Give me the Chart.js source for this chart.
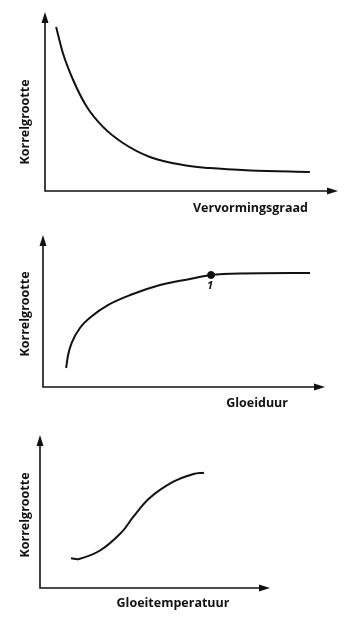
<!DOCTYPE html>
<html>
<head>
<meta charset="utf-8">
<script src="https://cdn.jsdelivr.net/npm/chart.js@4.4.1/dist/chart.umd.min.js"></script>
<style>
  body { margin: 0; background: #fff; width: 350px; height: 619px; position: relative; overflow: hidden; }
  canvas { position: absolute; left: 0; }
</style>
</head>
<body>
<canvas id="c1" width="350" height="220" style="top:0"></canvas>
<canvas id="c2" width="350" height="200" style="top:220px"></canvas>
<canvas id="c3" width="350" height="199" style="top:420px"></canvas>
<script>
const yTitle = 'Korrelgrootte';
const xTitles = ['Vervormingsgraad', 'Gloeiduur', 'Gloeitemperatuur'];

// 1: korrelgrootte vs vervormingsgraad
const deformX = [3.8, 6.1, 9.6, 14.3, 19.8, 26.6, 35.8, 47.1, 56.3, 70, 90.4];
const deformY = [91.6, 77.1, 62, 46.9, 35.8, 26.8, 19, 14.5, 12.8, 11.5, 10.6];

// 2: korrelgrootte vs gloeiduur, with point 1
const timeX = [8.2, 8.9, 10.3, 13.1, 17.4, 23.0, 30.9, 41.5, 52.1, 59.6, 69.9, 94.7];
const timeY = [12.5, 21.1, 29.6, 38.8, 46.7, 53.9, 60.5, 67.1, 71.1, 73.7, 74.7, 75.0];
const markX = [59.6];
const markY = [73.7];
const markLabels = ['1'];

// 3: korrelgrootte vs gloeitemperatuur
const tempX = [13.5, 17.0, 26.1, 35.5, 40.6, 47.8, 58.0, 66.7, 71.3];
const tempY = [19.4, 19.0, 24.5, 36.5, 46.6, 59.0, 69.5, 74.5, 75.4];

const INK = '#111';
const FONT = '"Open Sans", "DejaVu Sans", sans-serif';

function toPoints(xs, ys) {
  return xs.map((x, i) => ({ x: x, y: ys[i] }));
}

// axes with arrow heads + axis titles
const arrowAxes = {
  id: 'arrowAxes',
  afterDraw(chart, args, o) {
    const { ctx, chartArea: a } = chart;
    ctx.save();
    ctx.strokeStyle = INK;
    ctx.fillStyle = INK;
    ctx.lineWidth = 1.6;
    ctx.beginPath();
    ctx.moveTo(a.left, a.top + 8);
    ctx.lineTo(a.left, a.bottom);
    ctx.lineTo(a.right - 8, a.bottom);
    ctx.stroke();

    ctx.beginPath();
    ctx.moveTo(a.left, a.top);
    ctx.lineTo(a.left - 3.5, a.top + 11);
    ctx.lineTo(a.left + 3.5, a.top + 11);
    ctx.closePath();
    ctx.fill();

    ctx.beginPath();
    ctx.moveTo(a.right, a.bottom);
    ctx.lineTo(a.right - 11, a.bottom - 3.5);
    ctx.lineTo(a.right - 11, a.bottom + 3.5);
    ctx.closePath();
    ctx.fill();

    ctx.font = 'bold 12.5px ' + FONT;
    ctx.textBaseline = 'middle';
    ctx.textAlign = o.xAlign;
    ctx.fillText(o.xTitle, o.xPos[0], o.xPos[1]);

    ctx.translate(o.yPos[0], o.yPos[1]);
    ctx.rotate(-Math.PI / 2);
    ctx.textAlign = 'center';
    ctx.fillText(o.yTitle, 0, 0);
    ctx.restore();

    if (o.marks) {
      const xs = chart.scales.x, ys = chart.scales.y;
      ctx.save();
      ctx.fillStyle = INK;
      ctx.font = 'italic bold 11px ' + FONT;
      ctx.textAlign = 'center';
      ctx.textBaseline = 'top';
      o.marks.forEach(m => {
        ctx.fillText(m.label, xs.getPixelForValue(m.x) - 1, ys.getPixelForValue(m.y) + 5);
      });
      ctx.restore();
    }
  }
};

function makeChart(id, datasets, padding, axisOpts) {
  return new Chart(document.getElementById(id), {
    type: 'scatter',
    data: { datasets: datasets },
    options: {
      responsive: false,
      animation: false,
      events: [],
      layout: { padding: padding },
      scales: {
        x: { type: 'linear', min: 0, max: 100, display: false },
        y: { type: 'linear', min: 0, max: 100, display: false }
      },
      plugins: {
        legend: { display: false },
        tooltip: { enabled: false },
        arrowAxes: axisOpts
      }
    },
    plugins: [arrowAxes]
  });
}

function curve(xs, ys, mode) {
  return {
    data: toPoints(xs, ys),
    showLine: true,
    borderColor: INK,
    borderWidth: 2,
    pointRadius: 0,
    cubicInterpolationMode: mode,
    tension: 0.4
  };
}

makeChart('c1', [curve(deformX, deformY, 'monotone')],
  { left: 45, right: 12, top: 12, bottom: 29 },
  { xTitle: xTitles[0], xAlign: 'right', xPos: [308, 208], yTitle: yTitle, yPos: [25, 122] });

makeChart('c2', [
    curve(timeX, timeY, 'monotone'),
    {
      data: toPoints(markX, markY),
      pointRadius: 3.5,
      pointBackgroundColor: INK,
      pointBorderColor: INK
    }
  ],
  { left: 43, right: 25, top: 15, bottom: 33 },
  {
    xTitle: xTitles[1], xAlign: 'right', xPos: [288, 183], yTitle: yTitle, yPos: [25, 94],
    marks: markX.map((x, i) => ({ x: x, y: markY[i], label: markLabels[i] }))
  });

makeChart('c3', [curve(tempX, tempY, 'default')],
  { left: 40, right: 80, top: 15, bottom: 31 },
  { xTitle: xTitles[2], xAlign: 'center', xPos: [173, 183], yTitle: yTitle, yPos: [25, 95] });
</script>
</body>
</html>
